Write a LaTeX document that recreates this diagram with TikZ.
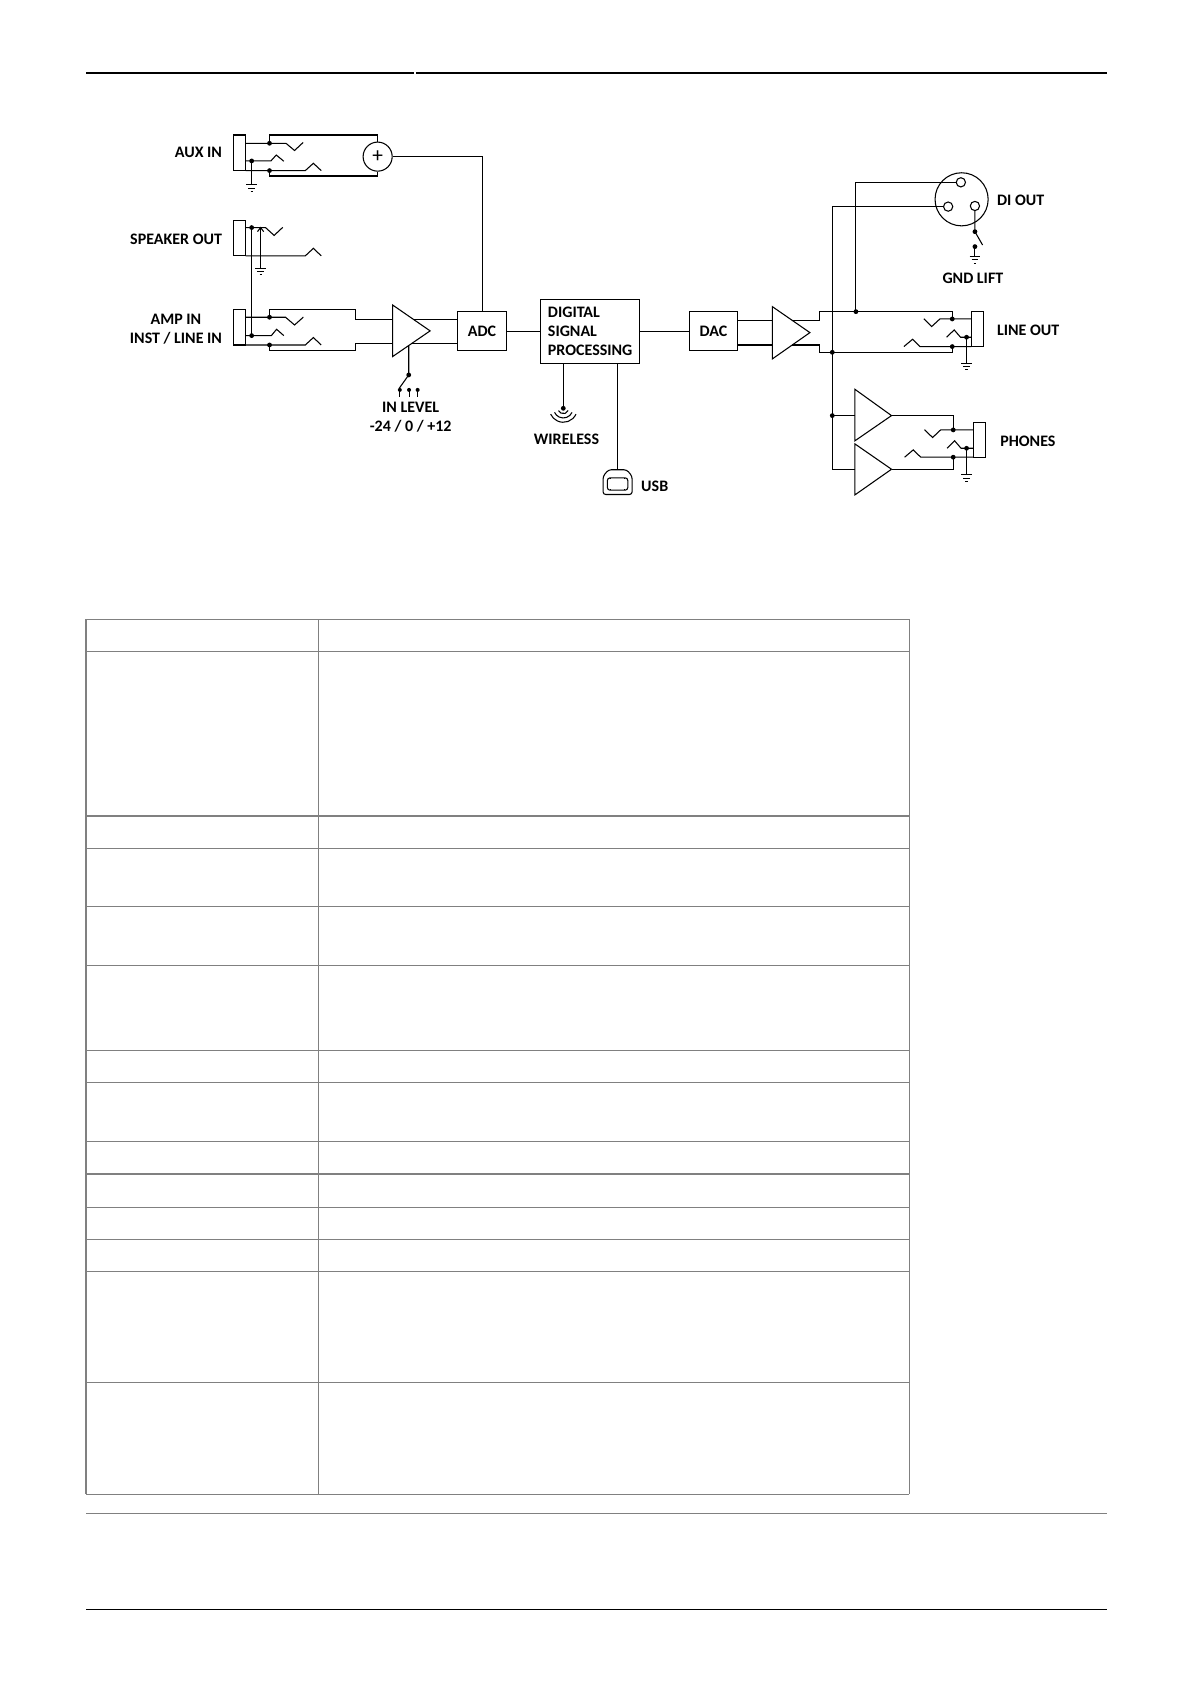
\documentclass[tikz,border=0pt]{standalone}
\usepackage{fontspec}
\setmainfont{Carlito}
\usetikzlibrary{positioning}
\tikzset{
    wire/.style = {line width=0.8pt},
    blk/.style = {rectangle, draw=black, line width=0.8pt, font=\bfseries\fontsize{12}{14.5}\selectfont},
    lbl/.style = {font=\bfseries\fontsize{12}{14}\selectfont, inner sep=1pt},
    jdot/.style = {circle, fill=black, inner sep=0pt, minimum size=3.6pt},
    rule/.style = {draw=black, line width=2pt},
    grid/.style = {draw=gray, line width=1pt},
    gnd/.pic = {\draw[wire] (-5,0) -- (5,0) (-3,3) -- (3,3) (-1,6) -- (1,6);}
}
\begin{document}
\begin{tikzpicture}[x=0.806pt,y=-0.806pt]
\useasboundingbox (0,0) rectangle (1108,1566.5);
%
% page rules and table
\draw[rule] (80,68) -- (385,68);
\draw[rule] (387,68) -- (1030,68);
\foreach \yy in {576,606,759,789,843,898,977,1007,1062,1092,1123,1153,1183,1286,1390}
  \draw[grid] (80,\yy) -- (846,\yy);
\foreach \xx in {80,296,846}
  \draw[grid] (\xx,576) -- (\xx,1390);
\draw[draw=gray, line width=1pt] (80,1408) -- (1030,1408);
\draw[draw=black, line width=1pt] (80,1497) -- (1030,1497);
%
% blocks
\node[blk, minimum width=36.3pt, minimum height=29.2pt] (adc) at (448.4,308) {ADC};
\node[blk, minimum width=74.2pt, minimum height=48pt, align=left] (dsp) at (549,308.2) {DIGITAL\\SIGNAL\\PROCESSING};
\node[blk, minimum width=36.2pt, minimum height=29.4pt] (dac) at (663.6,308.2) {DAC};
\node[circle, draw=black, line width=0.8pt, minimum size=21.8pt, inner sep=0pt, font=\fontsize{16}{16}\selectfont] (sum) at (351.3,145.7) {+};
%
% labels
\node[lbl, anchor=east] (auxin) at (208,141.7) {AUX IN};
\node[lbl, anchor=east] (spkout) at (208,222.6) {SPEAKER OUT};
\node[lbl, anchor=east, align=center] (ampin) at (208,306) {AMP IN\\INST / LINE IN};
\node[lbl, align=center] (inlevel) at (382,388) {IN LEVEL\\-24 / 0 / +12};
\node[lbl] (wireless) at (527,408.6) {WIRELESS};
\node[lbl, anchor=west] (usb) at (595,452.7) {USB};
\node[lbl, anchor=west] (diout) at (926,186.6) {DI OUT};
\node[lbl] (gndlift) at (905,258.9) {GND LIFT};
\node[lbl, anchor=west] (lineout) at (926,307) {LINE OUT};
\node[lbl, anchor=west] (phones) at (929,410.8) {PHONES};
%
% AUX IN jack
\draw[wire] (217.5,125.6) rectangle (228.5,158.7);
\draw[wire] (228.5,133.3) -- (266,133.3) -- (274,140) -- (282,132.5);
\draw[wire] (250.7,133.3) -- (250.7,125.6) -- (351.3,125.6) -- (sum.north);
\draw[wire] (228.5,149.7) -- (252,149.7) -- (257,144.2) -- (264,150);
\draw[wire] (234.1,149.7) -- (234.1,172) pic {gnd};
\draw[wire] (228.5,158.7) -- (284,158.7) -- (291.5,151.9) -- (298.8,158.7);
\draw[wire] (250.7,158.7) -- (250.7,163.7) -- (351.3,163.7) -- (sum.south);
\node[jdot] at (250.7,133.3) {};
\node[jdot] at (234.1,149.7) {};
\node[jdot] at (250.7,158.7) {};
\draw[wire] (sum.east) -| (adc.north);
%
% SPEAKER OUT jack
\draw[wire] (217.5,205.5) rectangle (228.5,238);
\draw[wire] (228.5,211.7) -- (247,211.7) -- (255,219) -- (263,211.5);
\draw[wire] (239.5,215.5) -- (242.4,211.7) -- (245.3,215.5);
\draw[wire] (242.4,211.7) -- (242.4,249.6) pic {gnd};
\draw[wire] (234.1,211.7) -- (234.1,312.2);
\draw[wire] (228.5,238) -- (284,238) -- (291.5,231) -- (298.8,238);
\node[jdot] at (234.1,211.7) {};
%
% AMP IN jack
\draw[wire] (217.5,288.3) rectangle (228.5,320.9);
\draw[wire] (228.5,295.1) -- (265.6,295.1) -- (274,302.3) -- (282.2,295);
\draw[wire] (250.7,295.1) -- (250.7,288.3) -- (330.4,288.3) -- (330.4,297) -- (365.2,297);
\draw[wire] (228.5,312.2) -- (252.4,312.2) -- (257.3,306.3) -- (264,312.2);
\draw[wire] (228.5,320.9) -- (284,320.9) -- (291.5,314) -- (298.8,320.9);
\draw[wire] (250.7,320.9) -- (250.7,326.1) -- (330.4,326.1) -- (330.4,319.3) -- (365.2,319.3);
\node[jdot] at (250.7,295.1) {};
\node[jdot] at (234.1,312.2) {};
\node[jdot] at (250.7,320.9) {};
%
% input amp and level switch
\draw[wire] (365.2,283.7) -- (400.1,307.8) -- (365.2,331.7) -- cycle;
\draw[wire] (384.5,297) -- (adc.west |- 0,297);
\draw[wire] (383.2,319.3) -- (adc.west |- 0,319.3);
\draw[wire] (380.2,321.4) -- (380.2,348.8) -- (371.5,361);
\node[jdot] at (380.2,348.8) {};
\foreach \tx in {371.9,380.5,388.5} {
  \draw[wire] (\tx,362.7) -- (\tx,369);
  \node[jdot, minimum size=3pt] at (\tx,362.7) {};
}
%
% DSP links
\draw[wire] (adc.east) -- (dsp.west |- adc.east);
\draw[wire] (dsp.east |- dac.west) -- (dac.west);
\draw[wire] (dsp.south -| 524,0) -- (524,379.8);
\node[jdot] at (524,379.8) {};
\foreach \rr in {5,9,13}
  \draw[wire] (524,379.8) ++(25:\rr) arc[start angle=25, end angle=155, radius=\rr];
\draw[wire] (dsp.south -| 574.4,0) -- (574.4,437);
\draw[wire, rounded corners=2pt] (561,443) -- (566,437) -- (583,437) -- (588,443) -- (588,460) -- (561,460) -- cycle;
\draw[wire, rounded corners=2pt] (565,444.5) rectangle (584,456);
\draw[wire] (568,444.5) -- (568,446) (581,444.5) -- (581,446) (568,456) -- (568,454.5) (581,456) -- (581,454.5);
%
% output amp
\draw[wire] (dac.east |- 0,298.2) -- (718.4,298.2);
\draw[wire] (dac.east |- 0,320.9) -- (718.4,320.9);
\draw[wire] (718.4,285.2) -- (753.4,309.4) -- (718.4,333.9) -- cycle;
\draw[wire] (737.2,298.2) -- (762.7,298.2) -- (762.7,289.9) -- (885.8,289.9) -- (885.8,296.7);
\draw[wire] (736.8,320.9) -- (762.7,320.9) -- (762.7,327.7) -- (885.8,327.7) -- (885.8,322.4);
%
% DI OUT
\draw[wire] (894.5,185.4) circle[radius=24.7];
\draw[wire] (893.8,169.6) circle[radius=4.3];
\draw[wire] (882,192.2) circle[radius=4.3];
\draw[wire] (906.9,191.6) circle[radius=4.3];
\draw[wire] (796.2,289.9) -- (796.2,169.6) -- (889.5,169.6);
\draw[wire] (774.2,437.1) -- (774.2,192.2) -- (877.7,192.2);
\draw[wire] (906.9,195.9) -- (906.9,215.5) -- (914,227.9);
\draw[wire] (906.9,229.4) -- (906.9,238.7) pic {gnd};
\node[jdot] at (906.9,215.5) {};
\node[jdot] at (906.9,229.4) {};
\node[jdot] at (796.2,289.9) {};
\node[jdot] at (774.2,327.7) {};
\node[jdot] at (774.2,386.6) {};
%
% LINE OUT jack
\draw[wire] (903.7,289.9) rectangle (915.2,322.4);
\draw[wire] (903.7,296.7) -- (874.3,296.7) -- (866.6,303.8) -- (859.4,296.5);
\draw[wire] (903.7,322.4) -- (855.7,322.4) -- (848.9,315.6) -- (840.8,322.4);
\draw[wire] (903.7,313.7) -- (893.5,313.7) -- (887.6,306.9) -- (880.5,313.7);
\draw[wire] (899.1,313.7) -- (899.1,337.9) pic {gnd};
\node[jdot] at (885.8,296.7) {};
\node[jdot] at (885.8,322.4) {};
\node[jdot] at (899.1,313.7) {};
%
% PHONES
\draw[wire] (795.2,362.1) -- (829.3,386.6) -- (795.2,410.1) -- cycle;
\draw[wire] (795.2,412.9) -- (829.3,436.5) -- (795.2,460.4) -- cycle;
\draw[wire] (774.2,386.6) -- (795.2,386.6);
\draw[wire] (774.2,437.1) -- (795.2,437.1);
\draw[wire] (829.3,386.6) -- (886.7,386.6) -- (886.7,399.9);
\draw[wire] (829.3,436.5) -- (886.7,436.5) -- (886.7,425.3);
\draw[wire] (905.3,393.1) rectangle (916.8,425.6);
\draw[wire] (905.3,399.9) -- (875,399.9) -- (867.5,407) -- (860,399.7);
\draw[wire] (905.3,425.3) -- (856.5,425.3) -- (849.5,418.5) -- (841.5,425.3);
\draw[wire] (905.3,417) -- (894,417) -- (888,410) -- (881,417);
\draw[wire] (899.1,417) -- (899.1,441.7) pic {gnd};
\node[jdot] at (886.7,399.9) {};
\node[jdot] at (886.7,425.3) {};
\node[jdot] at (899.1,417) {};
\end{tikzpicture}
\end{document}
